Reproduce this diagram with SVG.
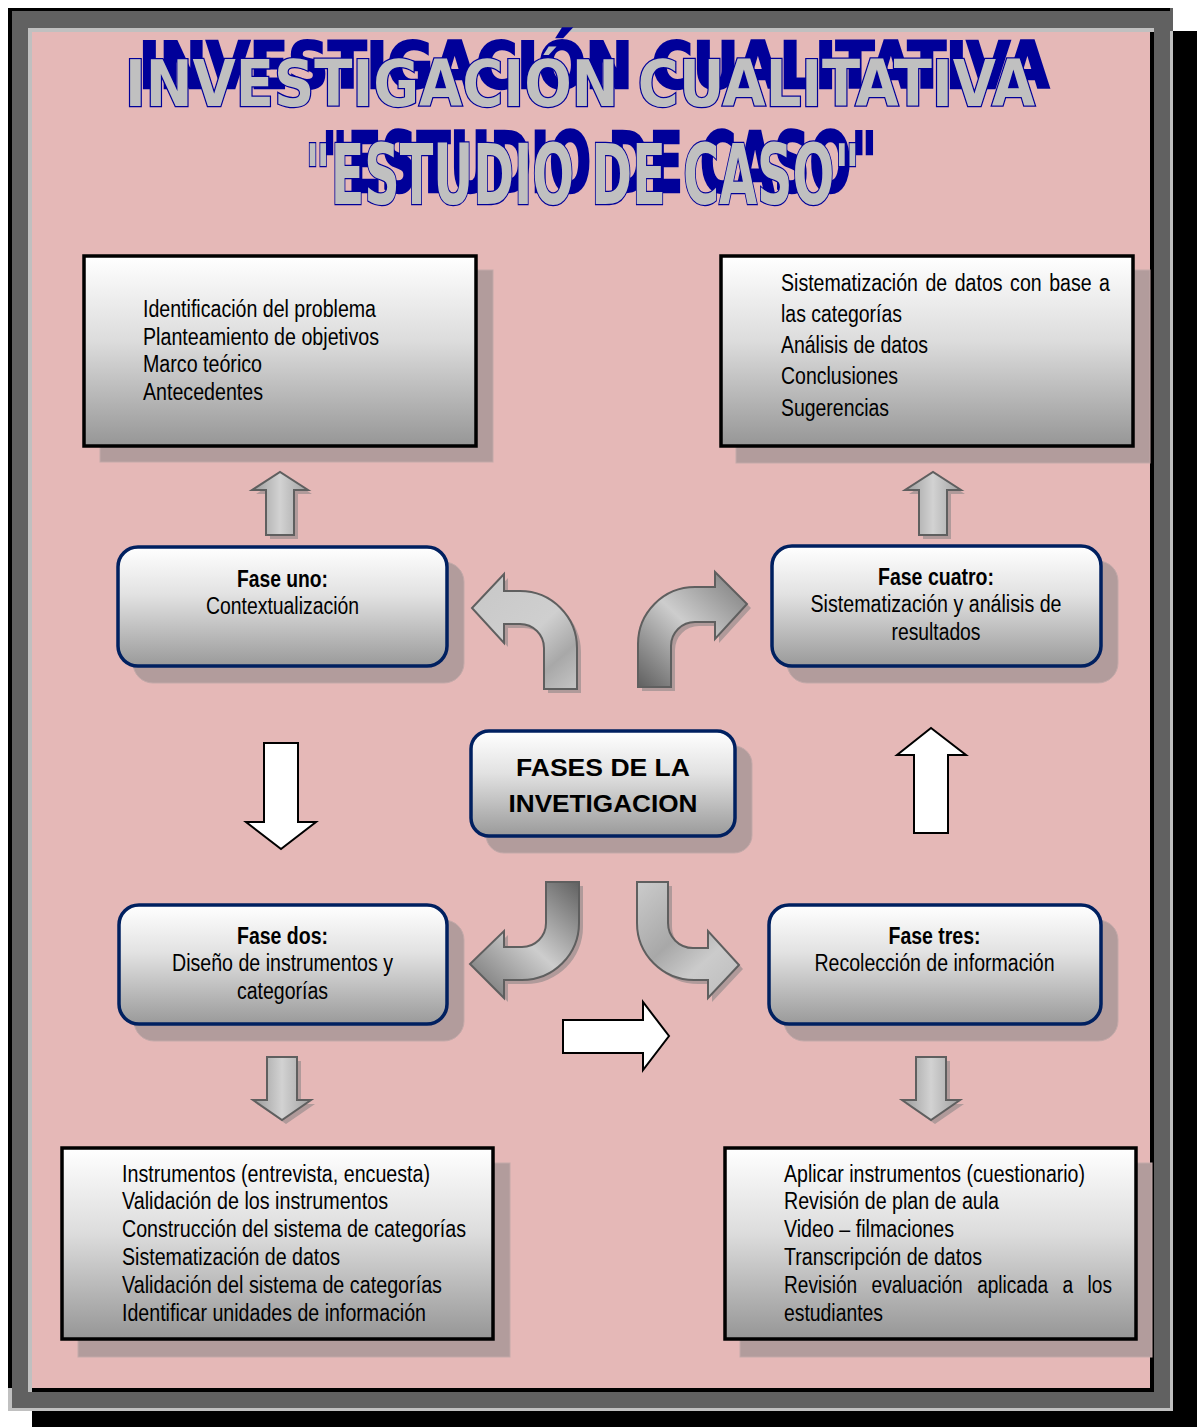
<svg xmlns="http://www.w3.org/2000/svg" width="1197" height="1427" viewBox="0 0 1197 1427">
<defs>
<linearGradient id="gBox" x1="0" y1="0" x2="0" y2="1">
<stop offset="0" stop-color="#ffffff"/><stop offset="0.45" stop-color="#dcdcdc"/><stop offset="1" stop-color="#969696"/>
</linearGradient>
<linearGradient id="gFase" x1="0" y1="0" x2="0" y2="1">
<stop offset="0" stop-color="#ffffff"/><stop offset="0.4" stop-color="#e2e2e2"/><stop offset="1" stop-color="#9a9a9a"/>
</linearGradient>
<linearGradient id="gV" x1="0" y1="0" x2="1" y2="0">
<stop offset="0" stop-color="#9a9a9a"/><stop offset="0.5" stop-color="#d2d2d2"/><stop offset="1" stop-color="#a0a0a0"/>
</linearGradient>
<linearGradient id="gTL" gradientUnits="userSpaceOnUse" x1="480" y1="580" x2="580" y2="690">
<stop offset="0" stop-color="#c8c8c8"/><stop offset="0.5" stop-color="#cfcfcf"/><stop offset="0.75" stop-color="#a8a8a8"/><stop offset="1" stop-color="#c8c8c8"/>
</linearGradient>
<linearGradient id="gTR" gradientUnits="userSpaceOnUse" x1="640" y1="690" x2="750" y2="575">
<stop offset="0" stop-color="#5e5e5e"/><stop offset="0.5" stop-color="#cdcdcd"/><stop offset="1" stop-color="#777777"/>
</linearGradient>
<linearGradient id="gBL" gradientUnits="userSpaceOnUse" x1="580" y1="880" x2="470" y2="1000">
<stop offset="0" stop-color="#5e5e5e"/><stop offset="0.5" stop-color="#cdcdcd"/><stop offset="1" stop-color="#6a6a6a"/>
</linearGradient>
<linearGradient id="gBR" gradientUnits="userSpaceOnUse" x1="640" y1="880" x2="740" y2="990">
<stop offset="0" stop-color="#cbcbcb"/><stop offset="0.45" stop-color="#a8a8a8"/><stop offset="0.7" stop-color="#cbcbcb"/><stop offset="1" stop-color="#bdbdbd"/>
</linearGradient>
<filter id="wa1" x="-5%" y="-60%" width="115%" height="220%">
<feOffset in="SourceAlpha" dx="14" dy="-18" result="o"/>
<feFlood flood-color="#000099"/>
<feComposite in2="o" operator="in" result="s"/>
<feMerge><feMergeNode in="s"/><feMergeNode in="SourceGraphic"/></feMerge>
</filter>
<filter id="wa2" x="-5%" y="-60%" width="115%" height="220%">
<feOffset in="SourceAlpha" dx="17" dy="-12" result="o"/>
<feFlood flood-color="#000099"/>
<feComposite in2="o" operator="in" result="s"/>
<feMerge><feMergeNode in="s"/><feMergeNode in="SourceGraphic"/></feMerge>
</filter>
</defs>
<style>
.t{font-family:"Liberation Sans",Arial,sans-serif;font-size:23px;fill:#000}
.b{font-weight:bold}
.c{text-anchor:middle}
.box{fill:url(#gBox);stroke:#000;stroke-width:3.5}
.fase{fill:url(#gFase);stroke:#002060;stroke-width:3.5}
.sh{fill:#b29c9c;stroke:#c3a9a9;stroke-width:1}
.ga{stroke:#5f5f5f;stroke-width:2;stroke-linejoin:miter}
.ash{fill:#b09a9a}
.wa{fill:#fff;stroke:#000;stroke-width:2}
.title{font-family:"DejaVu Sans Condensed","Liberation Sans Narrow","Liberation Sans",sans-serif;font-weight:bold}
.tm{fill:#c0c0c0;stroke:#000099;stroke-width:2.5;paint-order:stroke}
</style>

<!-- frame -->
<g id="frame">
<rect x="32" y="31" width="1165" height="1396" fill="#000"/>
<rect x="8" y="8" width="1165" height="1403" fill="#616161"/>
<rect x="8" y="8" width="4" height="1380" fill="#000"/>
<rect x="8" y="8" width="1162" height="3" fill="#000"/>
<rect x="1170" y="31" width="3" height="1380" fill="#c0c0c0"/>
<rect x="8" y="1408" width="1165" height="3" fill="#c0c0c0"/>
<rect x="8" y="1388" width="4" height="23" fill="#c0c0c0"/>
<rect x="28" y="28" width="1126" height="1364" fill="#c0c0c0"/>
<rect x="32" y="32" width="1122" height="1360" fill="#000"/>
<rect x="32" y="32" width="1118" height="1356" fill="#e5b8b7"/>
</g>

<!-- title -->
<g id="title">
<text class="title tm" x="125" y="106" font-size="64" textLength="910" lengthAdjust="spacingAndGlyphs" filter="url(#wa1)">INVESTIGACIÓN CUALITATIVA</text>
<text class="title tm" x="305" y="204" font-size="84" textLength="555" lengthAdjust="spacingAndGlyphs" filter="url(#wa2)">"ESTUDIO DE CASO"</text>
</g>

<!-- connectors -->
<g id="connectors">
<g class="ash" transform="translate(4,4)">
<path d="M266,535 L266,490 L252,490 L280,472 L308,490 L294,490 L294,535 Z"/>
<path d="M919,535 L919,490 L905,490 L933,472 L961,490 L947,490 L947,535 Z"/>
<path d="M267,1057 L297,1057 L297,1100 L311,1100 L282,1120 L253,1100 L267,1100 Z"/>
<path d="M916,1057 L946,1057 L946,1100 L960,1100 L931,1120 L902,1100 L916,1100 Z"/>
<path d="M544,689 L544,648 A24,24 0 0 0 520,624 L504,624 L504,643 L472,608 L504,574 L504,591 L520,591 A57,57 0 0 1 577,648 L577,689 Z"/>
<path d="M638,687 L638,644 A57,57 0 0 1 695,587 L715,587 L715,572 L747,604 L715,639 L715,622 L695,622 A24,24 0 0 0 671,646 L671,687 Z"/>
<path d="M546,882 L579,882 L579,923 A57,57 0 0 1 522,980 L504,980 L504,998 L470,964 L504,931 L504,947 L522,947 A24,24 0 0 0 546,923 Z"/>
<path d="M637,882 L668,882 L668,923 A25,25 0 0 0 693,948 L708,948 L708,931 L739,965 L708,998 L708,980 L694,980 A57,57 0 0 1 637,923 Z"/>
</g>
<path class="ga" fill="url(#gV)" d="M266,535 L266,490 L252,490 L280,472 L308,490 L294,490 L294,535 Z"/>
<path class="ga" fill="url(#gV)" d="M919,535 L919,490 L905,490 L933,472 L961,490 L947,490 L947,535 Z"/>
<path class="ga" fill="url(#gV)" d="M267,1057 L297,1057 L297,1100 L311,1100 L282,1120 L253,1100 L267,1100 Z"/>
<path class="ga" fill="url(#gV)" d="M916,1057 L946,1057 L946,1100 L960,1100 L931,1120 L902,1100 L916,1100 Z"/>
<path class="ga" fill="url(#gTL)" d="M544,689 L544,648 A24,24 0 0 0 520,624 L504,624 L504,643 L472,608 L504,574 L504,591 L520,591 A57,57 0 0 1 577,648 L577,689 Z"/>
<path class="ga" fill="url(#gTR)" d="M638,687 L638,644 A57,57 0 0 1 695,587 L715,587 L715,572 L747,604 L715,639 L715,622 L695,622 A24,24 0 0 0 671,646 L671,687 Z"/>
<path class="ga" fill="url(#gBL)" d="M546,882 L579,882 L579,923 A57,57 0 0 1 522,980 L504,980 L504,998 L470,964 L504,931 L504,947 L522,947 A24,24 0 0 0 546,923 Z"/>
<path class="ga" fill="url(#gBR)" d="M637,882 L668,882 L668,923 A25,25 0 0 0 693,948 L708,948 L708,931 L739,965 L708,998 L708,980 L694,980 A57,57 0 0 1 637,923 Z"/>
<path class="wa" d="M264,743 L298,743 L298,822 L316,822 L281,849 L246,822 L264,822 Z"/>
<path class="wa" d="M914,833 L914,755 L897,755 L931,728 L966,755 L948,755 L948,833 Z"/>
<path class="wa" d="M563,1020 L643,1020 L643,1002 L669,1036 L643,1070 L643,1053 L563,1053 Z"/>
</g>

<!-- top-left box -->
<g id="box-contexto">
<rect class="sh" x="100" y="270" width="393" height="192"/>
<rect class="box" x="84" y="256" width="392" height="190"/>
<text class="t" x="143" y="317" textLength="233" lengthAdjust="spacingAndGlyphs">Identificación del problema</text>
<text class="t" x="143" y="345" textLength="236" lengthAdjust="spacingAndGlyphs">Planteamiento de objetivos</text>
<text class="t" x="143" y="372" textLength="119" lengthAdjust="spacingAndGlyphs">Marco teórico</text>
<text class="t" x="143" y="400" textLength="120" lengthAdjust="spacingAndGlyphs">Antecedentes</text>
</g>

<!-- top-right box -->
<g id="box-analisis">
<rect class="sh" x="736" y="270" width="414" height="193"/>
<rect class="box" x="721" y="256" width="412" height="190"/>
<text class="t" x="781" y="291" word-spacing="2.5" textLength="329" lengthAdjust="spacingAndGlyphs">Sistematización de datos con base a</text>
<text class="t" x="781" y="322" textLength="121" lengthAdjust="spacingAndGlyphs">las categorías</text>
<text class="t" x="781" y="353" textLength="147" lengthAdjust="spacingAndGlyphs">Análisis de datos</text>
<text class="t" x="781" y="384" textLength="117" lengthAdjust="spacingAndGlyphs">Conclusiones</text>
<text class="t" x="781" y="416" textLength="108" lengthAdjust="spacingAndGlyphs">Sugerencias</text>
</g>

<!-- Fase uno -->
<g id="fase-uno">
<rect class="sh" x="133" y="562" width="331" height="121" rx="20"/>
<rect class="fase" x="118" y="547" width="329" height="119" rx="20"/>
<text class="t b c" x="282.5" y="587" textLength="91" lengthAdjust="spacingAndGlyphs">Fase uno:</text>
<text class="t c" x="282.5" y="614" textLength="153" lengthAdjust="spacingAndGlyphs">Contextualización</text>
</g>

<!-- Fase cuatro -->
<g id="fase-cuatro">
<rect class="sh" x="787" y="561" width="331" height="122" rx="20"/>
<rect class="fase" x="772" y="546" width="329" height="120" rx="20"/>
<text class="t b c" x="936" y="585" textLength="116" lengthAdjust="spacingAndGlyphs">Fase cuatro:</text>
<text class="t c" x="936" y="612" textLength="251" lengthAdjust="spacingAndGlyphs">Sistematización y análisis de</text>
<text class="t c" x="936" y="640" textLength="89" lengthAdjust="spacingAndGlyphs">resultados</text>
</g>

<!-- center -->
<g id="fases-investigacion">
<rect class="sh" x="486" y="746" width="266" height="107" rx="18"/>
<rect class="fase" x="471" y="731" width="264" height="105" rx="18"/>
<text class="t b c" x="603" y="776" font-size="32" textLength="174" lengthAdjust="spacingAndGlyphs">FASES DE LA</text>
<text class="t b c" x="603" y="812" font-size="32" textLength="189" lengthAdjust="spacingAndGlyphs">INVETIGACION</text>
</g>

<!-- Fase dos -->
<g id="fase-dos">
<rect class="sh" x="134" y="920" width="330" height="121" rx="20"/>
<rect class="fase" x="119" y="905" width="328" height="119" rx="20"/>
<text class="t b c" x="282.5" y="944" textLength="91" lengthAdjust="spacingAndGlyphs">Fase dos:</text>
<text class="t c" x="282.5" y="971" textLength="221" lengthAdjust="spacingAndGlyphs">Diseño de instrumentos y</text>
<text class="t c" x="282.5" y="999" textLength="91" lengthAdjust="spacingAndGlyphs">categorías</text>
</g>

<!-- Fase tres -->
<g id="fase-tres">
<rect class="sh" x="784" y="920" width="334" height="121" rx="20"/>
<rect class="fase" x="769" y="905" width="332" height="119" rx="20"/>
<text class="t b c" x="934.5" y="944" textLength="92" lengthAdjust="spacingAndGlyphs">Fase tres:</text>
<text class="t c" x="934.5" y="971" textLength="240" lengthAdjust="spacingAndGlyphs">Recolección de información</text>
</g>

<!-- bottom-left box -->
<g id="box-diseno">
<rect class="sh" x="78" y="1163" width="432" height="194"/>
<rect class="box" x="62" y="1148" width="431" height="191"/>
<text class="t" x="122" y="1182" textLength="308" lengthAdjust="spacingAndGlyphs">Instrumentos (entrevista, encuesta)</text>
<text class="t" x="122" y="1209" textLength="266" lengthAdjust="spacingAndGlyphs">Validación de los instrumentos</text>
<text class="t" x="122" y="1237" textLength="344" lengthAdjust="spacingAndGlyphs">Construcción del sistema de categorías</text>
<text class="t" x="122" y="1265" textLength="218" lengthAdjust="spacingAndGlyphs">Sistematización de datos</text>
<text class="t" x="122" y="1293" textLength="320" lengthAdjust="spacingAndGlyphs">Validación del sistema de categorías</text>
<text class="t" x="122" y="1321" textLength="304" lengthAdjust="spacingAndGlyphs">Identificar unidades de información</text>
</g>

<!-- bottom-right box -->
<g id="box-recoleccion">
<rect class="sh" x="740" y="1163" width="412" height="194"/>
<rect class="box" x="725" y="1148" width="411" height="191"/>
<text class="t" x="784" y="1182" textLength="301" lengthAdjust="spacingAndGlyphs">Aplicar instrumentos (cuestionario)</text>
<text class="t" x="784" y="1209" textLength="215" lengthAdjust="spacingAndGlyphs">Revisión de plan de aula</text>
<text class="t" x="784" y="1237" textLength="170" lengthAdjust="spacingAndGlyphs">Video – filmaciones</text>
<text class="t" x="784" y="1265" textLength="198" lengthAdjust="spacingAndGlyphs">Transcripción de datos</text>
<text class="t" x="784" y="1293" word-spacing="11" textLength="328" lengthAdjust="spacingAndGlyphs">Revisión evaluación aplicada a los</text>
<text class="t" x="784" y="1321" textLength="99" lengthAdjust="spacingAndGlyphs">estudiantes</text>
</g>
</svg>
